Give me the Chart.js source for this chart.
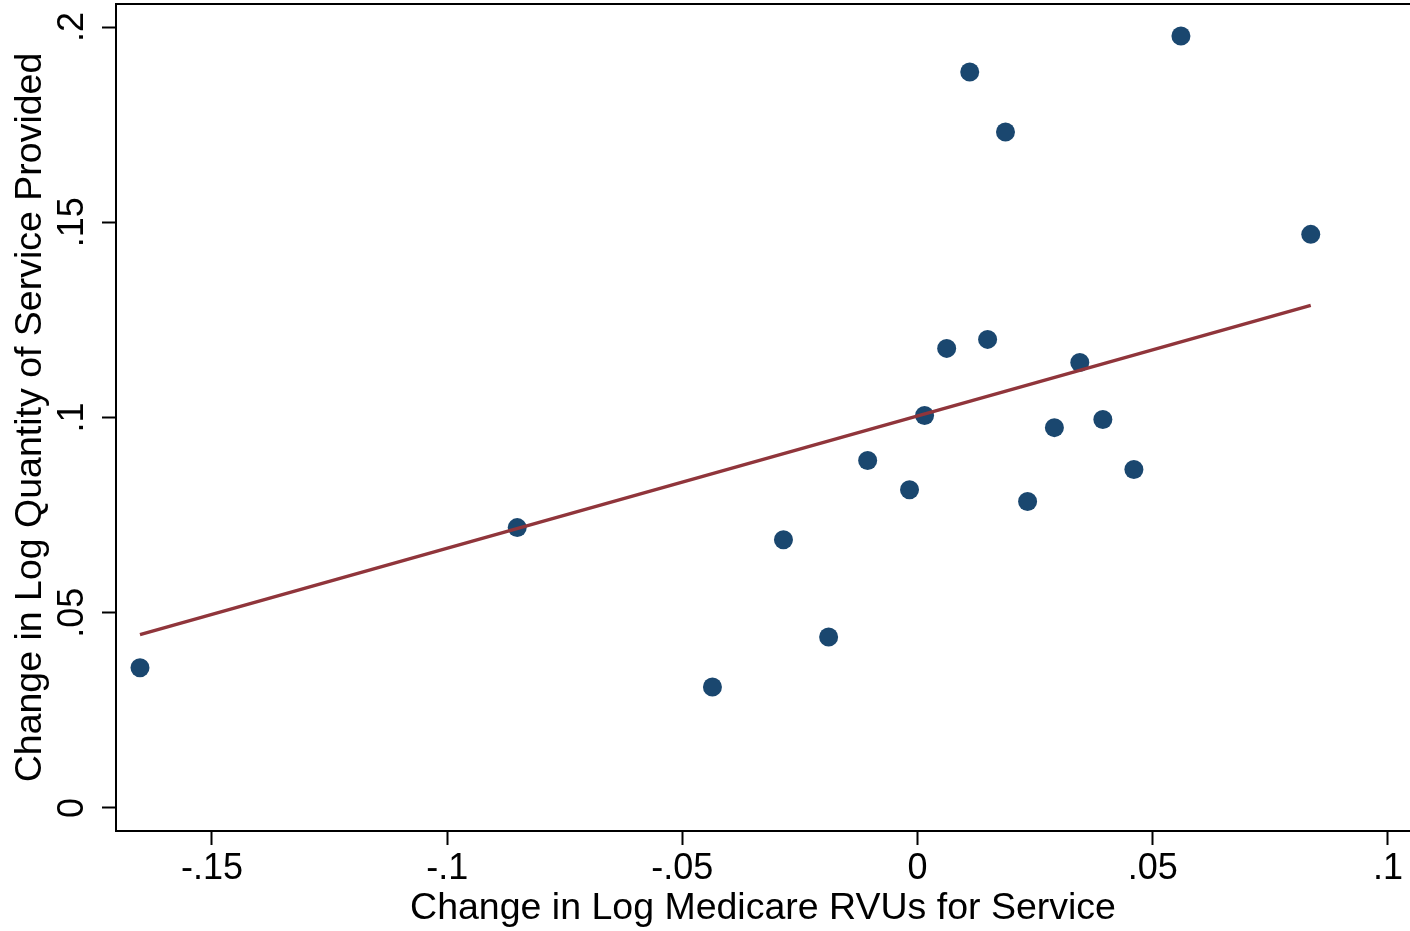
<!DOCTYPE html>
<html>
<head>
<meta charset="utf-8">
<script src="https://cdn.jsdelivr.net/npm/chart.js@4.4.1/dist/chart.umd.min.js"></script>
<style>
    html, body { margin: 0; padding: 0; background: #ffffff; }
    #wrap { width: 1410px; height: 931px; position: relative; }
</style>
</head>
<body>
<div id="wrap"><canvas id="scatterChart"></canvas></div>
<script>
// change in log RVUs (x) and change in log quantity (y), one point per service group
const rvuChange = [-0.1653, -0.0851, -0.0436, -0.0285, -0.0189, -0.0106, -0.0017, 0.0015, 0.0062, 0.0111,
    0.0149, 0.0187, 0.0234, 0.0291, 0.0345, 0.0394, 0.0460, 0.0560, 0.0836];
const qtyChange = [0.0359, 0.0718, 0.0310, 0.0687, 0.0438, 0.0890, 0.0815, 0.1005, 0.1177, 0.1885,
    0.1200, 0.1731, 0.0785, 0.0974, 0.1141, 0.0995, 0.0867, 0.1977, 0.1469];

// fitted line end points
const fitX = [-0.1653, 0.0836];
const fitY = [0.0444, 0.1287];

const xTicks = [-0.15, -0.1, -0.05, 0, 0.05, 0.1];
const xTickLabels = ['-.15', '-.1', '-.05', '0', '.05', '.1'];
const yTicks = [0, 0.05, 0.1, 0.15, 0.2];
const yTickLabels = ['0', '.05', '.1', '.15', '.2'];

const FONT = 'Liberation Sans, Arial, sans-serif';

// top frame line + rotated y tick labels
const frameAndLabels = {
    id: 'frameAndLabels',
    afterDraw(chart) {
        const ctx = chart.ctx;
        const area = chart.chartArea;
        const yScale = chart.scales.y;
        ctx.save();
        ctx.strokeStyle = '#000000';
        ctx.lineWidth = 2;
        ctx.beginPath();
        ctx.moveTo(area.left, area.top);
        ctx.lineTo(area.right, area.top);
        ctx.stroke();

        ctx.fillStyle = '#000000';
        ctx.font = '36px ' + FONT;
        ctx.textAlign = 'center';
        ctx.textBaseline = 'alphabetic';
        yTicks.forEach((v, i) => {
            const py = yScale.getPixelForValue(v);
            ctx.save();
            ctx.translate(83, py);
            ctx.rotate(-Math.PI / 2);
            ctx.fillText(yTickLabels[i], 0, 0);
            ctx.restore();
        });
        ctx.restore();
    }
};

const noPad = s => {
    s.paddingLeft = 0;
    s.paddingRight = 0;
    s.paddingTop = 0;
    s.paddingBottom = 0;
};

const points = rvuChange.map((x, i) => ({ x: x, y: qtyChange[i] }));
const fitLine = fitX.map((x, i) => ({ x: x, y: fitY[i] }));

new Chart(document.getElementById('scatterChart'), {
    type: 'scatter',
    data: {
        datasets: [
            {
                type: 'line',
                data: fitLine,
                borderColor: '#90353b',
                borderWidth: 3.4,
                pointRadius: 0,
                fill: false,
                order: 0
            },
            {
                data: points,
                backgroundColor: '#1a476f',
                borderColor: '#1a476f',
                borderWidth: 0,
                pointRadius: 9.5,
                order: 1
            }
        ]
    },
    options: {
        responsive: true,
        maintainAspectRatio: false,
        animation: false,
        layout: { autoPadding: false, padding: { top: 4, right: 0, left: 0, bottom: 0 } },
        plugins: {
            legend: { display: false },
            tooltip: { enabled: false }
        },
        scales: {
            x: {
                type: 'linear',
                min: -0.1704,
                max: 0.1047,
                afterBuildTicks: s => { s.ticks = xTicks.map(v => ({ value: v })); },
                afterFit: s => { s.height = 100; noPad(s); },
                grid: { display: true, drawOnChartArea: false, drawTicks: true, tickLength: 14, tickWidth: 2, tickColor: '#000000' },
                border: { display: true, color: '#000000', width: 2 },
                ticks: {
                    autoSkip: false,
                    maxRotation: 0,
                    padding: 2,
                    color: '#000000',
                    font: { family: FONT, size: 36 },
                    callback: v => {
                        const i = xTicks.findIndex(t => Math.abs(t - v) < 1e-9);
                        return i >= 0 ? xTickLabels[i] : '';
                    }
                },
                title: {
                    display: true,
                    text: 'Change in Log Medicare RVUs for Service',
                    color: '#000000',
                    font: { family: FONT, size: 37.5 },
                    padding: { top: 0, bottom: 0 }
                }
            },
            y: {
                type: 'linear',
                min: -0.0059,
                max: 0.2059,
                afterBuildTicks: s => { s.ticks = yTicks.map(v => ({ value: v })); },
                afterFit: s => { s.width = 116; noPad(s); },
                grid: { display: true, drawOnChartArea: false, drawTicks: true, tickLength: 14, tickWidth: 2, tickColor: '#000000' },
                border: { display: true, color: '#000000', width: 2 },
                ticks: { display: false },
                title: {
                    display: true,
                    text: 'Change in Log Quantity of Service Provided',
                    color: '#000000',
                    font: { family: FONT, size: 37.5 },
                    padding: { top: 8, bottom: 0 }
                }
            }
        }
    },
    plugins: [frameAndLabels]
});
</script>
</body>
</html>
